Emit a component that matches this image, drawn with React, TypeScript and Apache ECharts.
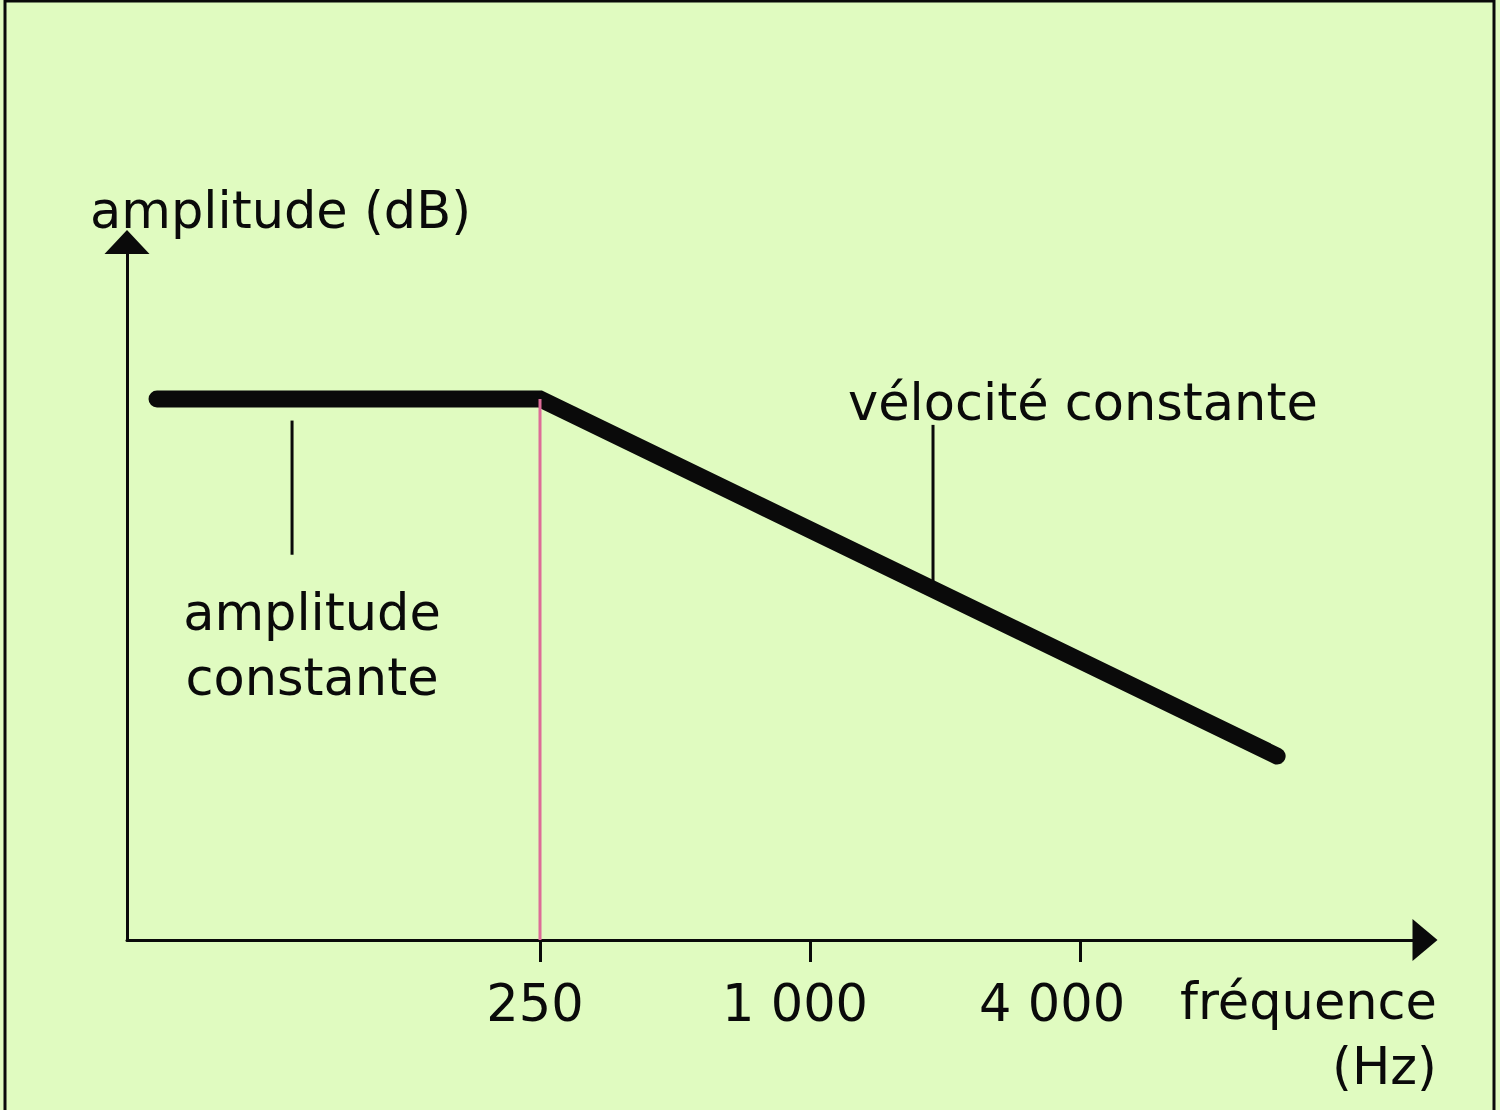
import React, { useEffect, useRef } from "react";
import * as echarts from "echarts";

// ---- data ----
const freqTicks = [250, 1000, 4000];
const tickLabels = ["250", "1 000", "4 000"];
const tickShift = [10, 30, 56]; // right padding (px) to nudge labels left like the reference
const responseFreq = [35, 250, 11000];
const responseDb = [0, 0, -33];
const cornerFreq = 250;
const xMin = 30;
const xMax = 23500;
const yMin = -50;
const yMax = 14.5;
const ampLeaderFreq = 70;
const ampLeaderDb = [-2, -14.4];
const velLeaderFreq = 1880;
const velLeaderDb = [-2.4, -17.6];

const FONT = "'DejaVu Sans', sans-serif";
const FS = 51;
const INK = "#0a0a0a";
const BG = "#e0fbc0";
const PINK = "#dd6c98";

export default function App() {
  const ref = useRef<HTMLDivElement>(null);
  useEffect(() => {
    if (!ref.current) return;
    document.body.style.margin = "0";
    const chart = echarts.init(ref.current, undefined, { renderer: "svg" });

    const rich: Record<string, any> = {};
    tickLabels.forEach((_, i) => {
      rich["t" + i] = {
        fontFamily: FONT,
        fontSize: FS,
        color: INK,
        padding: [0, tickShift[i], 0, 0],
      };
    });

    const font = FS + "px " + FONT;

    const option: any = {
      animation: false,
      backgroundColor: BG,
      grid: { left: 127, right: 75, top: 242, bottom: 170 },
      xAxis: {
        type: "log",
        logBase: 2,
        min: xMin,
        max: xMax,
        axisLine: {
          show: true,
          onZero: false,
          symbol: ["none", "triangle"],
          symbolSize: [42, 25],
          lineStyle: { color: INK, width: 3 },
        },
        axisTick: {
          show: true,
          customValues: freqTicks,
          length: 22,
          inside: false,
          lineStyle: { color: INK, width: 3 },
        },
        minorTick: { show: false },
        splitLine: { show: false },
        axisLabel: {
          show: true,
          customValues: freqTicks,
          margin: 38,
          formatter: (v: number) => {
            const i = freqTicks.findIndex((f) => Math.abs(f - v) / f < 1e-6);
            if (i < 0) return "";
            return "{t" + i + "|" + tickLabels[i] + "}";
          },
          rich,
        },
      },
      yAxis: {
        type: "value",
        min: yMin,
        max: yMax,
        axisLine: {
          show: true,
          onZero: false,
          symbol: ["none", "triangle"],
          symbolSize: [45, 24],
          lineStyle: { color: INK, width: 3 },
        },
        axisTick: { show: false },
        axisLabel: { show: false },
        splitLine: { show: false },
      },
      series: [
        {
          type: "line",
          silent: true,
          showSymbol: false,
          z: 2,
          lineStyle: { color: INK, width: 3 },
          data: [
            [ampLeaderFreq, ampLeaderDb[0]],
            [ampLeaderFreq, ampLeaderDb[1]],
          ],
        },
        {
          type: "line",
          silent: true,
          showSymbol: false,
          z: 2,
          lineStyle: { color: INK, width: 3 },
          data: [
            [velLeaderFreq, velLeaderDb[0]],
            [velLeaderFreq, velLeaderDb[1]],
          ],
        },
        {
          type: "line",
          silent: true,
          showSymbol: false,
          z: 3,
          lineStyle: { color: INK, width: 17, cap: "round", join: "miter" },
          data: responseFreq.map((f, i) => [f, responseDb[i]]),
        },
        {
          type: "line",
          silent: true,
          showSymbol: false,
          z: 4,
          lineStyle: { color: PINK, width: 3 },
          data: [
            [cornerFreq, responseDb[1]],
            [cornerFreq, yMin],
          ],
        },
      ],
      graphic: [
        {
          type: "rect",
          z: 100,
          shape: { x: 5, y: 1, width: 1489, height: 1130 },
          style: { fill: "none", stroke: INK, lineWidth: 3 },
        },
        {
          type: "text",
          z: 100,
          x: 90,
          y: 210,
          style: {
            text: "amplitude (dB)",
            font,
            fill: INK,
            align: "left",
            verticalAlign: "middle",
          },
        },
        {
          type: "text",
          z: 100,
          x: 848,
          y: 402,
          style: {
            text: "vélocité constante",
            font,
            fill: INK,
            align: "left",
            verticalAlign: "middle",
          },
        },
        {
          type: "text",
          z: 100,
          x: 312,
          y: 645,
          style: {
            text: "amplitude\nconstante",
            font,
            lineHeight: 65,
            fill: INK,
            align: "center",
            verticalAlign: "middle",
          },
        },
        {
          type: "text",
          z: 100,
          x: 1437,
          y: 1034,
          style: {
            text: "fréquence\n(Hz)",
            font,
            lineHeight: 65,
            fill: INK,
            align: "right",
            verticalAlign: "middle",
          },
        },
      ],
    };

    chart.setOption(option);
    return () => chart.dispose();
  }, []);

  return (
    <div
      ref={ref}
      style={{ position: "absolute", left: 0, top: 0, width: 1500, height: 1110 }}
    />
  );
}
